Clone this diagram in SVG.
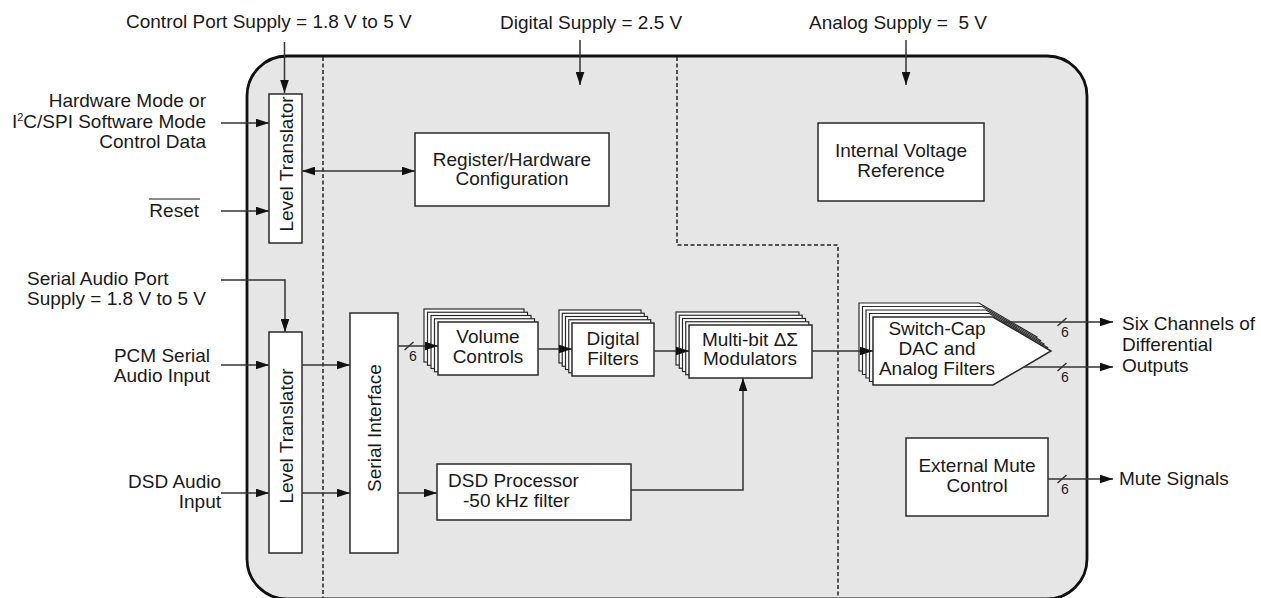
<svg xmlns="http://www.w3.org/2000/svg" width="1261" height="598" viewBox="0 0 1261 598">
<style>
text{font-family:"Liberation Sans",Arial,sans-serif;font-size:19px;fill:#1a1a1a}
.m{text-anchor:middle}.e{text-anchor:end}
.six{font-size:14px}
.box{fill:#fff;stroke:#2a2a2a;stroke-width:1.5}
.stk{fill:#fff;stroke:#2a2a2a;stroke-width:1.2}
.c{fill:none;stroke:#333;stroke-width:1.5}
.ar{marker-end:url(#ah)}
.dash{fill:none;stroke:#222;stroke-width:1.5;stroke-dasharray:4 2.5}
</style>
<defs>
<marker id="ah" markerUnits="userSpaceOnUse" markerWidth="13" markerHeight="9" refX="12" refY="4" orient="auto-start-reverse" viewBox="0 0 12 8"><path d="M0,0 L12,4 L0,8 z" fill="#111"/></marker>
<path id="pent" d="M0,0 H120 L178,34 L120,68 H0 Z"/>
</defs>
<g id="chip">
<rect x="247" y="56" width="840" height="543" rx="40" ry="40" fill="#e6e6e6" stroke="#111" stroke-width="2.8"/>
<path class="dash" d="M323,57 V598"/>
<path class="dash" d="M677,57 V245 H838 V598"/>
</g>
<g id="labels">
<text x="126" y="28">Control Port Supply = 1.8 V to 5 V</text>
<text x="500" y="29">Digital Supply = 2.5 V</text>
<text x="809" y="29" style="white-space:pre">Analog Supply =  5 V</text>
<text class="e" x="206" y="107">Hardware Mode or</text>
<text class="e" x="206" y="128">I<tspan font-size="11" dy="-7">2</tspan><tspan dy="7">C/SPI Software Mode</tspan></text>
<text class="e" x="206" y="148">Control Data</text>
<text class="e" x="199" y="217">Reset</text>
<line x1="149" y1="199" x2="200" y2="199" stroke="#1a1a1a" stroke-width="1.2"/>
<text x="27" y="285">Serial Audio Port</text>
<text x="27" y="305">Supply = 1.8 V to 5 V</text>
<text class="e" x="210" y="362">PCM Serial</text>
<text class="e" x="210" y="382">Audio Input</text>
<text class="e" x="221" y="488">DSD Audio</text>
<text class="e" x="221" y="508">Input</text>
<text x="1122" y="330">Six Channels of</text>
<text x="1122" y="351">Differential</text>
<text x="1122" y="372">Outputs</text>
<text x="1119" y="485">Mute Signals</text>
</g>
<g id="level-translator-ctrl">
<rect class="box" x="269" y="94" width="33" height="149"/>
<text class="m" transform="translate(293,164) rotate(-90)">Level Translator</text>
</g>
<g id="level-translator-audio">
<rect class="box" x="269" y="332" width="33" height="221"/>
<text class="m" transform="translate(293,436) rotate(-90)">Level Translator</text>
</g>
<g id="serial-interface">
<rect class="box" x="350" y="313" width="48" height="240"/>
<text class="m" transform="translate(381,428) rotate(-90)">Serial Interface</text>
</g>
<g id="register-config">
<rect class="box" x="415" y="133" width="194" height="73"/>
<text class="m" x="512" y="166">Register/Hardware</text>
<text class="m" x="512" y="185">Configuration</text>
</g>
<g id="voltage-ref">
<rect class="box" x="818" y="123" width="166" height="78"/>
<text class="m" x="901" y="157">Internal Voltage</text>
<text class="m" x="901" y="177">Reference</text>
</g>
<g id="volume-controls">
<rect class="stk" x="424" y="309" width="100" height="53"/>
<rect class="stk" x="427.5" y="312.25" width="100" height="53"/>
<rect class="stk" x="431" y="315.5" width="100" height="53"/>
<rect class="stk" x="434.5" y="318.75" width="100" height="53"/>
<rect class="box" x="438" y="322" width="100" height="53"/>
<text class="m" x="488" y="343">Volume</text>
<text class="m" x="488" y="363">Controls</text>
</g>
<g id="digital-filters">
<rect class="stk" x="559" y="310" width="82" height="53"/>
<rect class="stk" x="562.25" y="313.25" width="82" height="53"/>
<rect class="stk" x="565.5" y="316.5" width="82" height="53"/>
<rect class="stk" x="568.75" y="319.75" width="82" height="53"/>
<rect class="box" x="572" y="323" width="82" height="53"/>
<text class="m" x="613" y="345">Digital</text>
<text class="m" x="613" y="365">Filters</text>
</g>
<g id="modulators">
<rect class="stk" x="676" y="312" width="123" height="53"/>
<rect class="stk" x="679.25" y="315.25" width="123" height="53"/>
<rect class="stk" x="682.5" y="318.5" width="123" height="53"/>
<rect class="stk" x="685.75" y="321.75" width="123" height="53"/>
<rect class="box" x="689" y="325" width="123" height="53"/>
<text class="m" x="750" y="346">Multi-bit ΔΣ</text>
<text class="m" x="750" y="365">Modulators</text>
</g>
<g id="dsd-processor">
<rect class="box" x="437" y="464" width="194" height="56"/>
<text x="448" y="487">DSD Processor</text>
<text x="463" y="507">-50 kHz filter</text>
</g>
<g id="dac">
<use href="#pent" class="stk" x="859" y="303"/>
<use href="#pent" class="stk" x="862.5" y="306.5"/>
<use href="#pent" class="stk" x="866" y="310"/>
<use href="#pent" class="stk" x="869.5" y="313.5"/>
<use href="#pent" class="box" x="873" y="317"/>
<text class="m" x="937" y="335">Switch-Cap</text>
<text class="m" x="937" y="355">DAC and</text>
<text class="m" x="937" y="375">Analog Filters</text>
</g>
<g id="mute-control">
<rect class="box" x="906" y="438" width="142" height="78"/>
<text class="m" x="977" y="472">External Mute</text>
<text class="m" x="977" y="492">Control</text>
</g>
<g id="connectors">
<path class="c ar" d="M284.5,42 V93"/>
<path class="c ar" d="M580,40 V85"/>
<path class="c ar" d="M906,40 V85"/>
<path class="c ar" d="M221,123 H269"/>
<path class="c ar" d="M221,211 H269"/>
<path class="c ar" d="M302,171 H415" style="marker-start:url(#ah)"/>
<path class="c ar" d="M221,280 H285 V332"/>
<path class="c ar" d="M221,365 H269"/>
<path class="c ar" d="M221,493 H269"/>
<path class="c ar" d="M302,365 H350"/>
<path class="c ar" d="M302,493 H350"/>
<path class="c ar" d="M398,346 H438"/>
<path class="c" d="M404.5,350 L413.5,342"/>
<text class="six" x="409" y="361">6</text>
<path class="c ar" d="M538,349 H572"/>
<path class="c ar" d="M654,351 H689"/>
<path class="c ar" d="M812,351 H873"/>
<path class="c ar" d="M398,493 H437"/>
<path class="c ar" d="M631,490 H743 V378"/>
<path class="c ar" d="M1002,322 H1113"/>
<path class="c" d="M1057.5,326 L1066.5,318"/>
<text class="six" x="1061" y="337">6</text>
<path class="c ar" d="M1024,367 H1113"/>
<path class="c" d="M1057.5,371 L1066.5,363"/>
<text class="six" x="1061" y="382">6</text>
<path class="c ar" d="M1048,479 H1113"/>
<path class="c" d="M1057.5,483 L1066.5,475"/>
<text class="six" x="1061" y="494">6</text>
</g>
</svg>
